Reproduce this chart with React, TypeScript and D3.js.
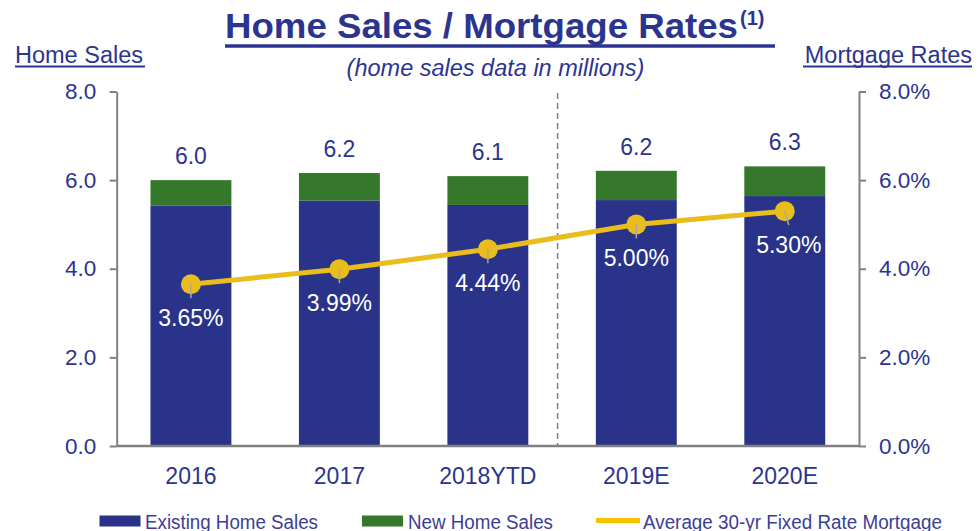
import * as d3 from 'd3'
import { useEffect, useRef } from 'react'

// chart values
const categories = ['2016', '2017', '2018YTD', '2019E', '2020E']
const existingSales = [5.43, 5.54, 5.44, 5.55, 5.64]
const newSales = [0.57, 0.62, 0.65, 0.66, 0.67]
const mortgageRates = [3.65, 3.99, 4.44, 5.0, 5.3]
const salesTicks = [0, 2, 4, 6, 8]
const rateTicks = [0, 2, 4, 6, 8]
const legendItems = ['Existing Home Sales', 'New Home Sales', 'Average 30-yr Fixed Rate Mortgage']

const W = 978, H = 531
const FONT = '"Liberation Sans", Arial, sans-serif'
const NAVY = '#2b3590'
const BLUE = '#283389'
const GREEN = '#35772b'
const GOLD = '#e9bd1c'
const GRAY = '#808080'

const margin = { left: 116.7, right: 859, top: 91.5, bottom: 446 }

function App() {
  const leftAxisRef = useRef<SVGGElement>(null)
  const rightAxisRef = useRef<SVGGElement>(null)

  const x = d3.scaleBand<string>()
    .domain(categories)
    .range([margin.left, margin.right])
    .paddingInner(0.455)
    .paddingOuter(0.2275)
  const y = d3.scaleLinear().domain([0, 8]).range([margin.bottom, margin.top])
  const yr = d3.scaleLinear().domain([0, 8]).range([margin.bottom, margin.top])
  const bw = x.bandwidth()
  const cx = (c: string) => (x(c) as number) + bw / 2

  useEffect(() => {
    const left = d3.select(leftAxisRef.current!)
    left.selectAll('*').remove()
    left.call(
      d3.axisLeft(y).tickValues(salesTicks).tickSize(7).tickSizeOuter(0)
        .tickPadding(13.5).tickFormat(d3.format('.1f'))
    )
    const right = d3.select(rightAxisRef.current!)
    right.selectAll('*').remove()
    right.call(
      d3.axisRight(yr).tickValues(rateTicks).tickSize(7).tickSizeOuter(0)
        .tickPadding(13).tickFormat(d => d3.format('.1f')(d as number) + '%')
    )
    ;[left, right].forEach(g => {
      g.select('.domain').attr('stroke', GRAY).attr('stroke-width', 2)
      g.selectAll('.tick line').attr('stroke', GRAY).attr('stroke-width', 2)
      g.selectAll('.tick text')
        .attr('fill', NAVY).attr('font-size', 22.5).attr('font-family', FONT)
      g.attr('font-family', FONT)
    })
  }, [])

  const line = d3.line<number>()
    .x((_, i) => cx(categories[i]))
    .y(d => yr(d))

  const dashX = (x('2018YTD')! + bw + x('2019E')!) / 2 - 4.5
  const legendX = [99.5, 362, 596]
  const legendBase = 528.5

  return (
    <svg width={W} height={H} style={{ position: 'absolute', left: 0, top: 0 }} fontFamily={FONT}>
      <rect width={W} height={H} fill="#fff" />

      {/* titles */}
      <text x={225} y={38} fill={NAVY} fontWeight="bold" fontSize={35} textLength={513} lengthAdjust="spacingAndGlyphs">
        Home Sales / Mortgage Rates
      </text>
      <text x={740} y={25} fill={NAVY} fontWeight="bold" fontSize={20}>(1)</text>
      <line x1={225} x2={775} y1={46} y2={46} stroke={NAVY} strokeWidth={3.5} />
      <text x={495.5} y={76} fill={NAVY} fontStyle="italic" fontSize={23.5} textAnchor="middle">
        (home sales data in millions)
      </text>
      <text x={15} y={63} fill={NAVY} fontSize={23.5}>Home Sales</text>
      <line x1={15} x2={145} y1={66.5} y2={66.5} stroke={NAVY} strokeWidth={2} />
      <text x={972} y={63} fill={NAVY} fontSize={23.5} textAnchor="end">Mortgage Rates</text>
      <line x1={803} x2={972} y1={66.5} y2={66.5} stroke={NAVY} strokeWidth={2} />

      {/* bars */}
      {categories.map((c, i) => {
        const total = existingSales[i] + newSales[i]
        return (
          <g key={c}>
            <rect x={x(c)} width={bw} y={y(existingSales[i])} height={y(0) - y(existingSales[i])} fill={BLUE} />
            <rect x={x(c)} width={bw} y={y(total)} height={y(existingSales[i]) - y(total)} fill={GREEN} />
            <text x={cx(c)} y={y(total) - 16} textAnchor="middle" fill={NAVY} fontSize={23}>
              {total.toFixed(1)}
            </text>
            <text x={cx(c)} y={484} textAnchor="middle" fill={NAVY} fontSize={23}>{c}</text>
          </g>
        )
      })}

      {/* separator between actuals and estimates */}
      <line x1={dashX} x2={dashX} y1={93} y2={margin.bottom} stroke={GRAY} strokeWidth={1.5} strokeDasharray="6,4" />

      <g ref={leftAxisRef} transform={`translate(${margin.left},0)`} />
      <g ref={rightAxisRef} transform={`translate(${margin.right},0)`} />
      <line x1={margin.left} x2={margin.right} y1={margin.bottom} y2={margin.bottom} stroke={GRAY} strokeWidth={2.5} />

      {/* mortgage rate line */}
      <path d={line(mortgageRates) ?? ''} fill="none" stroke={GOLD} strokeWidth={5} />
      {mortgageRates.map((r, i) => {
        const px = cx(categories[i]), py = yr(r)
        const tilt = i === 4 ? 4 : 0
        return (
          <g key={categories[i]}>
            <circle cx={px} cy={py} r={10} fill={GOLD} />
            <line x1={px} y1={py} x2={px + tilt} y2={py + 14} stroke="#a8a8a8" strokeWidth={1.5} />
            <text x={px + tilt} y={py + 42} textAnchor="middle" fill="#fff" fontSize={23}>
              {r.toFixed(2)}%
            </text>
          </g>
        )
      })}

      {/* legend */}
      <rect x={legendX[0]} y={515.5} width={41} height={11} fill={BLUE} />
      <text x={145} y={legendBase} fill="#3a4096" fontSize={20} textLength={173} lengthAdjust="spacingAndGlyphs">{legendItems[0]}</text>
      <rect x={legendX[1]} y={515.5} width={41} height={11} fill={GREEN} />
      <text x={408} y={legendBase} fill="#3a4096" fontSize={20} textLength={145} lengthAdjust="spacingAndGlyphs">{legendItems[1]}</text>
      <line x1={legendX[2]} x2={legendX[2] + 44} y1={520.5} y2={520.5} stroke="#f7c000" strokeWidth={5} />
      <text x={643} y={legendBase} fill="#3a4096" fontSize={20} textLength={299} lengthAdjust="spacingAndGlyphs">{legendItems[2]}</text>
    </svg>
  )
}

export default App
